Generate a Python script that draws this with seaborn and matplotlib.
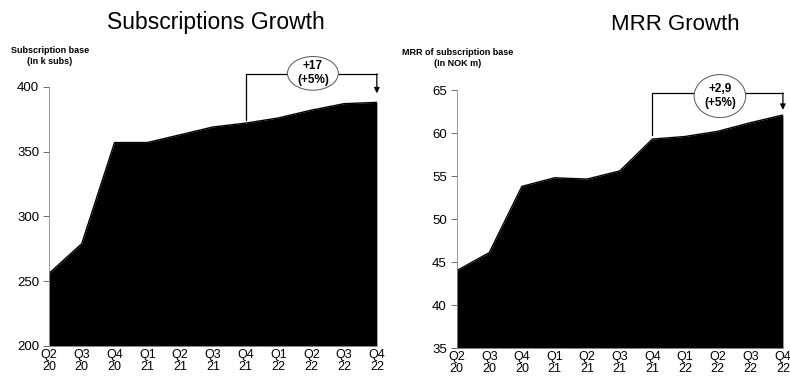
import numpy as np
import pandas as pd
import matplotlib
matplotlib.use("Agg")
import matplotlib.pyplot as plt
from matplotlib.patches import Ellipse
import seaborn as sns

quarters = ["Q2\n20", "Q3\n20", "Q4\n20", "Q1\n21", "Q2\n21", "Q3\n21",
            "Q4\n21", "Q1\n22", "Q2\n22", "Q3\n22", "Q4\n22"]
subs = [256, 279, 357, 357, 363, 369, 372, 376, 382, 387, 388]
mrr = [44.0, 46.1, 53.8, 54.8, 54.65, 55.6, 59.3, 59.6, 60.2, 61.2, 62.1]
subs_ticks = [200, 250, 300, 350, 400]
mrr_ticks = [35, 40, 45, 50, 55, 60, 65]

sns.set_style("ticks")
plt.rcParams['font.family'] = ['Liberation Sans', 'DejaVu Sans']
plt.rcParams['text.color'] = 'black'
plt.rcParams['xtick.labelcolor'] = 'black'
plt.rcParams['ytick.labelcolor'] = 'black'

df = pd.DataFrame({"q": range(len(quarters)), "subs": subs, "mrr": mrr})

fig = plt.figure(figsize=(7.9, 3.8), dpi=100)
ax1 = fig.add_axes([0.062, 0.0895, 0.415, 0.682])
ax2 = fig.add_axes([0.578, 0.084, 0.413, 0.679])


def area(ax, col, ticks):
    sns.lineplot(data=df, x="q", y=col, color="black", lw=1, ax=ax)
    ax.fill_between(df["q"], df[col], ticks[0], color="black", lw=0)
    ax.set_xlim(0, len(quarters) - 1)
    ax.set_ylim(ticks[0], ticks[-1])
    ax.set_yticks(ticks)
    ax.set_xticks(df["q"])
    ax.set_xticklabels(quarters, fontsize=9, linespacing=1.0)
    ax.tick_params(axis="y", labelsize=9.5, length=4, width=0.6, pad=3,
                   color="#555555", labelcolor="black")
    ax.tick_params(axis="x", length=0, pad=2, labelcolor="black")
    ax.set_xlabel("")
    ax.set_ylabel("")
    for s in ["top", "right"]:
        ax.spines[s].set_visible(False)
    ax.spines["left"].set_color("#888888")
    ax.spines["left"].set_linewidth(0.6)
    ax.spines["bottom"].set_color("#888888")
    ax.spines["bottom"].set_linewidth(0.6)


area(ax1, "subs", subs_ticks)
area(ax2, "mrr", mrr_ticks)


def bracket(ax, x0, x1, ybot, ytop, ytip, cx, cy, w, h, label):
    ax.plot([x0, x0, x1], [ybot, ytop, ytop], color="black", lw=0.9, clip_on=False)
    ax.annotate("", xy=(x1, ytip), xytext=(x1, ytop),
                arrowprops=dict(arrowstyle="-|>", color="black", lw=0.9,
                                mutation_scale=8, shrinkA=0, shrinkB=0),
                annotation_clip=False)
    ell = Ellipse((cx, cy), w, h, facecolor="white", edgecolor="#555555",
                  lw=0.7, clip_on=False, zorder=5)
    ax.add_patch(ell)
    ax.text(cx, cy, label, ha="center", va="center", fontsize=8.5,
            fontweight="bold", linespacing=1.2, zorder=6, clip_on=False)


bracket(ax1, 6, 10, 374.5, 410, 395, 8.05, 410.4, 1.55, 26, "+17\n(+5%)")
bracket(ax2, 6, 10, 59.8, 64.65, 62.7, 8.07, 64.3, 1.58, 5.0, "+2,9\n(+5%)")

fig.text(216 / 790, 1 - 22 / 380, "Subscriptions Growth", ha="center", va="center", fontsize=16.5)
fig.text(675 / 790, 1 - 25 / 380, "MRR Growth", ha="center", va="center", fontsize=16)

fig.text(50 / 790, 1 - 56 / 380, "Subscription base\n(In k subs)", ha="center", va="center",
         fontsize=6.5, fontweight="bold", linespacing=1.3)
fig.text(458 / 790, 1 - 58 / 380, "MRR of subscription base\n(In NOK m)", ha="center", va="center",
         fontsize=6.5, fontweight="bold", linespacing=1.3)

fig.savefig("out.png", dpi=100)
